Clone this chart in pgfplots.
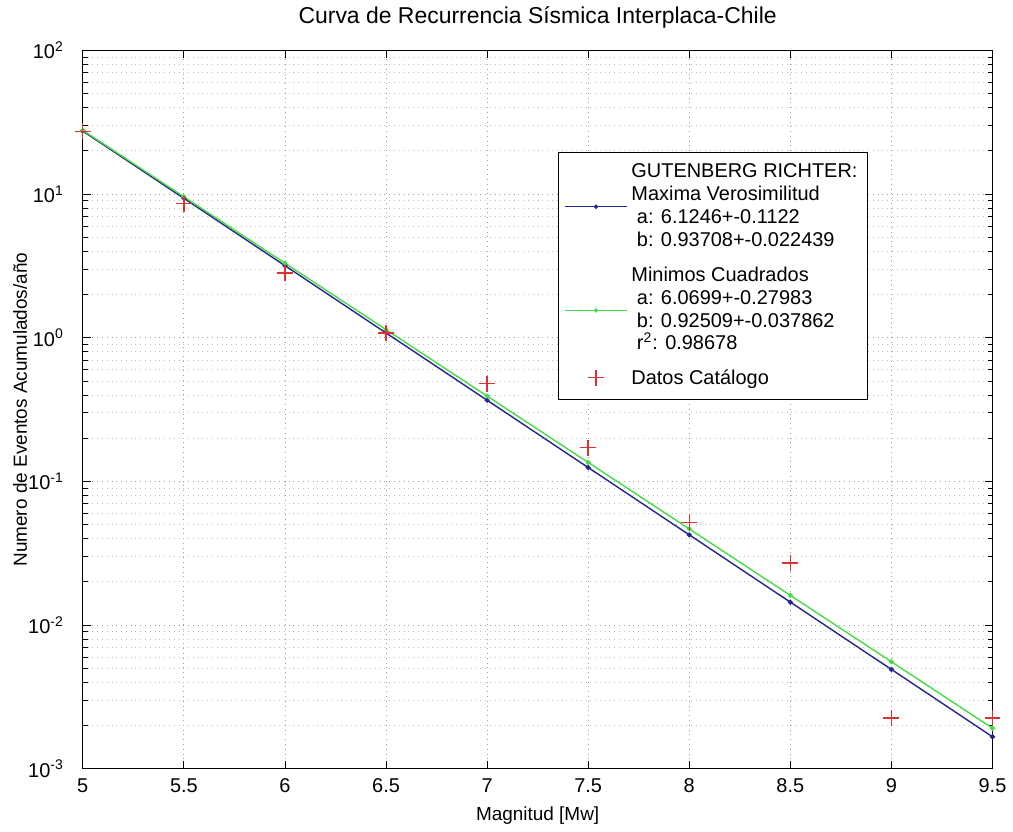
\documentclass[border=0pt]{standalone}
\usepackage{fontspec}
\setmainfont{Liberation Sans}
\usepackage{pgfplots}
\pgfplotsset{compat=1.18}

\definecolor{mlblue}{RGB}{35,35,145}
\definecolor{lsgreen}{RGB}{70,220,70}
\definecolor{catred}{RGB}{220,50,50}

\begin{document}
\begin{tikzpicture}
\begin{axis}[
    at={(0,0)}, anchor=south west,
    width=456pt, height=360pt,
    scale only axis,
    ymode=log,
    xmin=5, xmax=9.5,
    ymin=1e-3, ymax=1e2,
    xtick={5,5.5,6,6.5,7,7.5,8,8.5,9,9.5},
    xticklabels={5,5.5,6,6.5,7,7.5,8,8.5,9,9.5},
    ytick={1e-3,1e-2,1e-1,1,10,100},
    yticklabels={10\textsuperscript{-3},10\textsuperscript{-2},10\textsuperscript{-1},10\textsuperscript{0},10\textsuperscript{1},10\textsuperscript{2}},
    tick label style={font=\fontsize{10}{12}\selectfont},
    xticklabel style={yshift=-1.5pt},
    yticklabel style={xshift=-6pt},
    major tick length=4pt,
    minor tick length=2.5pt,
    tick style={black, line width=0.4pt},
    xmajorgrids, ymajorgrids, yminorgrids,
    major grid style={dotted, gray!75},
    minor grid style={dotted, gray!50},
    axis line style={black, line width=0.5pt},
    title={Curva de Recurrencia Sísmica Interplaca-Chile},
    title style={font=\fontsize{11.5}{13}\selectfont, at={(0.5,1)}, anchor=base, yshift=7.5pt},
    xlabel={Magnitud [Mw]},
    xlabel style={font=\fontsize{9.5}{11}\selectfont, at={(axis description cs:0.5,0)}, anchor=base, yshift=-26pt},
    ylabel={Numero de Eventos Acumulados/año},
    ylabel style={font=\fontsize{9.5}{11}\selectfont, at={(axis description cs:-0.069,0.5)}, anchor=center},
    legend style={at={(0.863,0.858)}, anchor=north east, draw=black, fill=white,
        font=\fontsize{10}{11.5}\selectfont, cells={anchor=west},
        inner xsep=3pt, inner ysep=4pt, row sep=0pt,
        nodes={inner ysep=0pt, text height=8.3pt, text depth=3.2pt}},
]
\addplot[mlblue, line width=0.7pt, mark=*, mark size=0.9pt, forget plot] coordinates {
(5,27.49)(5.5,9.348)(6,3.178)(6.5,1.0803)(7,0.3673)(7.5,0.12487)(8,0.04246)(8.5,0.014435)(9,0.004908)(9.5,0.001668)
};
\addplot[lsgreen, line width=0.7pt, mark=*, mark size=0.9pt, forget plot] coordinates {
(5,27.82)(5.5,9.592)(6,3.3072)(6.5,1.1397)(7,0.39294)(7.5,0.13546)(8,0.04669)(8.5,0.016096)(9,0.005549)(9.5,0.001912)
};
\addplot[catred, only marks, mark=+, mark size=4pt, line width=0.7pt, mark options={catred, solid, line width=0.7pt}, forget plot] coordinates {
(5,27.3)(5.5,8.57)(6,2.83)(6.5,1.08)(7,0.48)(7.5,0.172)(8,0.0519)(8.5,0.027)(9,0.00226)(9.5,0.00226)
};
% legend rows
\addlegendimage{empty legend}
\addlegendentry{GUTENBERG RICHTER:}
\addlegendimage{legend image code/.code={\path (0pt,0pt) (31pt,0pt); \draw[overlay, mlblue, line width=0.7pt] (0pt,-5.75pt) -- (31pt,-5.75pt); \fill[overlay, mlblue] (15.5pt,-5.75pt) circle (0.9pt);}}
\addlegendentry{Maxima Verosimilitud}
\addlegendimage{empty legend}
\addlegendentry{\ a: 6.1246+-0.1122}
\addlegendimage{empty legend}
\addlegendentry{\ b: 0.93708+-0.022439}
\addlegendimage{empty legend}
\addlegendentry[text height=14.3pt]{Minimos Cuadrados}
\addlegendimage{legend image code/.code={\path (0pt,0pt) (31pt,0pt); \draw[overlay, lsgreen, line width=0.7pt] (0pt,-5.75pt) -- (31pt,-5.75pt); \fill[overlay, lsgreen] (15.5pt,-5.75pt) circle (0.9pt);}}
\addlegendentry{\ a: 6.0699+-0.27983}
\addlegendimage{empty legend}
\addlegendentry{\ b: 0.92509+-0.037862}
\addlegendimage{empty legend}
\addlegendentry{\ r\textsuperscript{2}: 0.98678}
\addlegendimage{legend image code/.code={\path (0pt,0pt) (31pt,0pt); \draw[overlay, catred, line width=0.7pt] (11.5pt,-1.95pt) -- (19.5pt,-1.95pt) (15.5pt,-5.95pt) -- (15.5pt,2.05pt);}}
\addlegendentry[text height=14.3pt]{Datos Catálogo}
\end{axis}
\path[use as bounding box] (-41.5pt,-30pt) rectangle (465pt,383.5pt);
\end{tikzpicture}
\end{document}
